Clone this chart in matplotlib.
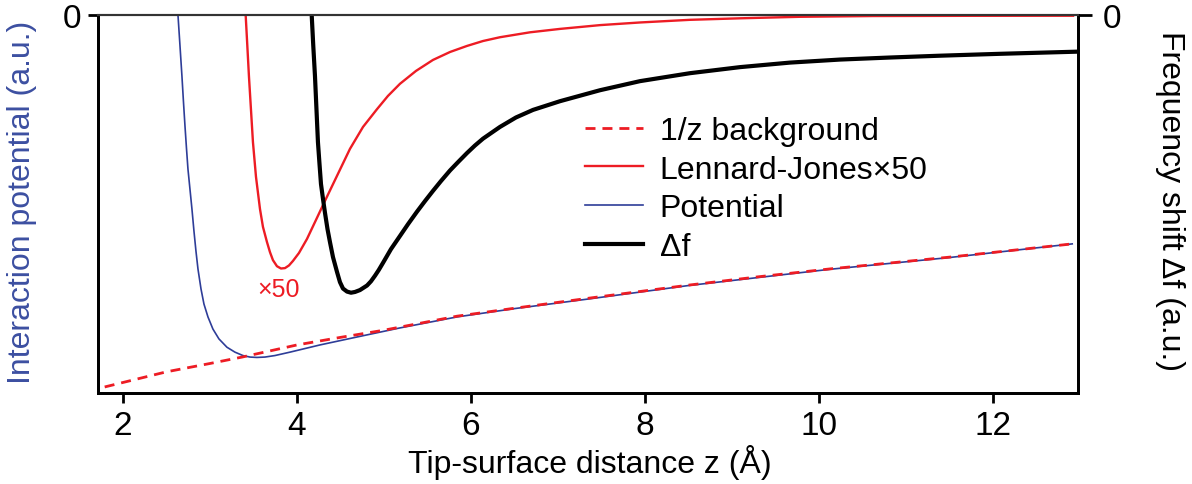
import matplotlib
matplotlib.use("Agg")
import matplotlib.pyplot as plt

plt.rcParams['font.family'] = ['Liberation Sans', 'DejaVu Sans']

# values (a.u., 0 at the top edge)
z_bg = [1.79, 2.5, 3.0, 3.37, 4.0, 4.5, 5.0, 5.84, 6.5, 7.37, 8.5, 9.3, 10.13, 11.5, 12.91]
bg = [-0.984, -0.944, -0.922, -0.905, -0.873, -0.853, -0.834, -0.797, -0.776, -0.749,
      -0.715, -0.693, -0.672, -0.641, -0.606]

z_pot = [2.632, 2.655, 2.678, 2.695, 2.713, 2.730, 2.747, 2.770, 2.793, 2.816, 2.839, 2.862,
         2.897, 2.931, 2.977, 3.034, 3.103, 3.195, 3.287, 3.379, 3.460, 3.540, 3.632, 3.747,
         3.920, 4.264, 4.690, 5.184, 5.839, 6.5, 7.37, 8.5, 10.13, 11.5, 12.91]
pot = [0.0, -0.081, -0.163, -0.229, -0.295, -0.353, -0.408, -0.461, -0.514, -0.572, -0.625,
       -0.672, -0.725, -0.765, -0.799, -0.831, -0.857, -0.879, -0.892, -0.901, -0.905, -0.906,
       -0.905, -0.901, -0.892, -0.873, -0.852, -0.828, -0.799, -0.777, -0.751, -0.716, -0.673,
       -0.642, -0.606]

z_lj = [3.410, 3.429, 3.448, 3.471, 3.494, 3.529, 3.575, 3.609, 3.655, 3.690, 3.724, 3.770,
        3.816, 3.862, 3.908, 3.954, 4.023, 4.115, 4.218, 4.333, 4.471, 4.609, 4.759, 4.920,
        5.046, 5.184, 5.368, 5.563, 5.759, 5.954, 6.138, 6.333, 6.678, 7.023, 7.483, 7.943,
        8.517, 9.092, 9.782, 10.621, 11.736, 12.920]
lj = [0.0, -0.081, -0.163, -0.250, -0.337, -0.429, -0.514, -0.561, -0.601, -0.628, -0.649,
      -0.665, -0.671, -0.670, -0.663, -0.651, -0.630, -0.593, -0.543, -0.487, -0.421, -0.355,
      -0.297, -0.250, -0.215, -0.183, -0.149, -0.120, -0.099, -0.083, -0.070, -0.060, -0.047,
      -0.038, -0.028, -0.021, -0.014, -0.010, -0.006, -0.004, -0.0034, -0.0032]

z_df = [4.169, 4.187, 4.207, 4.224, 4.241, 4.259, 4.276, 4.299, 4.322, 4.351, 4.379, 4.414,
        4.460, 4.494, 4.529, 4.575, 4.621, 4.667, 4.724, 4.805, 4.850, 4.897, 4.940, 4.989,
        5.080, 5.184, 5.276, 5.379, 5.471, 5.563, 5.655, 5.759, 5.851, 5.954, 6.046, 6.138,
        6.333, 6.517, 6.713, 7.023, 7.483, 7.943, 8.517, 9.092, 9.667, 10.241, 10.816,
        11.391, 12.080, 12.943]
df = [0.0, -0.081, -0.163, -0.250, -0.337, -0.395, -0.448, -0.487, -0.524, -0.567, -0.601,
      -0.641, -0.680, -0.707, -0.724, -0.732, -0.735, -0.733, -0.728, -0.716, -0.705, -0.690,
      -0.675, -0.656, -0.620, -0.585, -0.554, -0.521, -0.493, -0.466, -0.440, -0.412, -0.390,
      -0.366, -0.346, -0.328, -0.297, -0.272, -0.252, -0.229, -0.200, -0.176, -0.155, -0.139,
      -0.127, -0.119, -0.1136, -0.1088, -0.1038, -0.0983]

xticks = [2, 4, 6, 8, 10, 12]

blue = '#2E3D98'
red = '#ED1C24'
label_blue = '#3C4FA1'

fig = plt.figure(figsize=(11.92, 4.85), dpi=100)
ax = fig.add_axes([0.0822, 0.1876, 0.8222, 0.7804])
ax2 = ax.twinx()

ax.plot(z_pot, pot, color=blue, lw=1.2, label='Potential', zorder=2)
ax.plot(z_bg, bg, color=red, lw=2.0, dashes=(3.6, 2.5), label='1/z background', zorder=3)
ax.plot(z_lj, lj, color=red, lw=1.7, label='Lennard-Jones\u00d750', zorder=4)
ax.plot(z_df, df, color='black', lw=3.0, label='\u0394f', zorder=5)

ax.text(3.79, -0.725, '\u00d750', color=red, fontsize=18, ha='center', va='center')

ax.set_xlim(1.713, 12.977)
ax.set_ylim(-1, 0)
ax2.set_ylim(-1, 0)

ax.set_xticks(xticks)
ax.set_yticks([0])
ax2.set_yticks([0])
ax.tick_params(axis='x', direction='out', length=7, width=2, labelsize=24, pad=5)
ax.tick_params(axis='y', direction='out', length=7, width=2, labelsize=24, pad=5)
ax2.tick_params(axis='y', direction='out', length=10, width=2, labelsize=24, pad=8)

for a in (ax, ax2):
    for s in ('left', 'right', 'bottom'):
        a.spines[s].set_linewidth(2)
    a.spines['top'].set_linewidth(1.5)
    a.spines['top'].set_color('#333333')

ax.set_xlabel('Tip-surface distance z (\u00c5)', fontsize=23)
ax.xaxis.label.set_va('center')
ax.xaxis.set_label_coords(0.502, -0.182)

ax.set_ylabel('Interaction potential (a.u.)', fontsize=23, color=label_blue)
ax.yaxis.label.set_va('center')
ax.yaxis.set_label_coords(-0.0776, 0.505)

ax2.set_ylabel('Frequency shift \u0394f (a.u.)', fontsize=23, rotation=270)
ax2.yaxis.label.set_va('center')
ax2.yaxis.set_label_coords(1.094, 0.51)

handles, labels = ax.get_legend_handles_labels()
order = [1, 2, 0, 3]
ax.legend([handles[i] for i in order], [labels[i] for i in order],
          loc='upper left', bbox_to_anchor=(0.497, 0.732), frameon=False,
          fontsize=23, handlelength=1.8, handletextpad=0.53, labelspacing=0.27,
          borderpad=0, borderaxespad=0)

fig.savefig('out.png', dpi=100)
